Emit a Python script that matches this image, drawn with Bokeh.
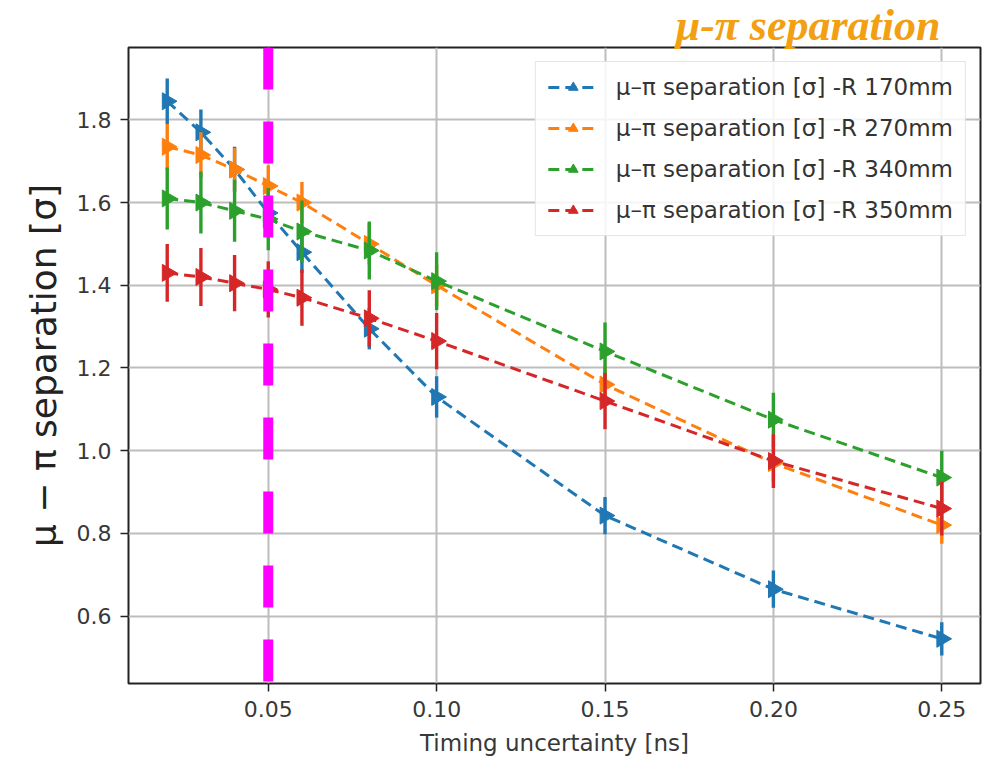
import math
from bokeh.plotting import figure
from bokeh.models import (Range1d, FixedTicker, Span, Legend, LegendItem)
from bokeh.embed import file_html
from bokeh.resources import INLINE

# ---------------- data ----------------
timing = [0.02, 0.03, 0.04, 0.05, 0.06, 0.08, 0.10, 0.15, 0.20, 0.25]

sep_170 = [1.845, 1.770, 1.680, 1.575, 1.480, 1.295, 1.130, 0.843, 0.665, 0.545]
err_170 = [0.055, 0.055, 0.055, 0.050, 0.050, 0.050, 0.050, 0.045, 0.045, 0.040]

sep_270 = [1.735, 1.715, 1.680, 1.640, 1.600, 1.500, 1.400, 1.160, 0.970, 0.820]
err_270 = [0.055, 0.055, 0.052, 0.050, 0.050, 0.050, 0.050, 0.045, 0.045, 0.045]

sep_340 = [1.610, 1.600, 1.580, 1.560, 1.530, 1.484, 1.410, 1.240, 1.075, 0.935]
err_340 = [0.075, 0.075, 0.075, 0.075, 0.075, 0.070, 0.070, 0.070, 0.065, 0.065]

sep_350 = [1.430, 1.420, 1.405, 1.390, 1.370, 1.320, 1.265, 1.120, 0.975, 0.860]
err_350 = [0.070, 0.070, 0.068, 0.068, 0.068, 0.068, 0.068, 0.068, 0.065, 0.065]

series_names = ["μ–π separation [σ] -R 170mm", "μ–π separation [σ] -R 270mm",
                "μ–π separation [σ] -R 340mm", "μ–π separation [σ] -R 350mm"]
series_colors = ["#1f77b4", "#ff7f0e", "#2ca02c", "#d62728"]

x_ticks = [0.05, 0.10, 0.15, 0.20, 0.25]
x_tick_labels = ["0.05", "0.10", "0.15", "0.20", "0.25"]
y_ticks = [0.6, 0.8, 1.0, 1.2, 1.4, 1.6, 1.8]
y_tick_labels = ["0.6", "0.8", "1.0", "1.2", "1.4", "1.6", "1.8"]

cut_value = 0.05
title_text = "μ-π separation"
x_label = "Timing uncertainty [ns]"
y_label = "μ − π separation [σ]"

# ---------------- figure ----------------
p = figure(width=986, height=760, output_backend="svg", toolbar_location=None,
           x_range=Range1d(0.0085, 0.2615), y_range=Range1d(0.437, 1.975))
p.min_border_left = 128
p.min_border_right = 6
p.min_border_top = 46
p.min_border_bottom = 77
p.background_fill_color = "white"
p.border_fill_color = "white"
p.outline_line_color = "#222222"
p.outline_line_width = 2

# orange heading above the frame, right side
p.title.text = title_text
p.title.align = "right"
p.title.offset = 40
p.title.standoff = -4
p.title.vertical_align = "bottom"
p.title.text_font = "Liberation Serif"
p.title.text_font_style = "bold italic"
p.title.text_font_size = "44px"
p.title.text_color = "#f2a012"

for ax in (p.xaxis[0], p.yaxis[0]):
    ax.axis_line_color = None
    ax.major_tick_line_color = "#222222"
    ax.major_tick_line_width = 1.5
    ax.major_tick_out = 8
    ax.major_tick_in = 0
    ax.minor_tick_line_color = None
    ax.major_label_text_font = "DejaVu Sans"
    ax.major_label_text_font_size = "22px"
    ax.major_label_text_color = "#383838"
    ax.axis_label_text_font = "DejaVu Sans"
    ax.axis_label_text_font_style = "normal"
    ax.axis_label_text_color = "#222222"

p.xaxis[0].ticker = FixedTicker(ticks=x_ticks)
p.xaxis[0].major_label_overrides = dict(zip(x_ticks, x_tick_labels))
p.xaxis[0].axis_label = x_label
p.xaxis[0].axis_label_text_font_size = "23px"
p.xaxis[0].axis_label_text_color = "#383838"
p.xaxis[0].major_label_standoff = 9
p.xaxis[0].axis_label_standoff = 10

p.yaxis[0].ticker = FixedTicker(ticks=y_ticks)
p.yaxis[0].major_label_overrides = dict(zip(y_ticks, y_tick_labels))
p.yaxis[0].axis_label = y_label
p.yaxis[0].axis_label_text_font_size = "36px"
p.yaxis[0].major_label_standoff = 9
p.yaxis[0].axis_label_standoff = 10

p.xgrid[0].ticker = FixedTicker(ticks=x_ticks)
p.ygrid[0].ticker = FixedTicker(ticks=y_ticks)
p.grid.grid_line_color = "#bdbdbd"
p.grid.grid_line_width = 2

# ---------------- series ----------------
all_y = [sep_170, sep_270, sep_340, sep_350]
all_e = [err_170, err_270, err_340, err_350]
items = []
for name, col, ys, es in zip(series_names, series_colors, all_y, all_e):
    ln = p.line(timing, ys, line_color=col, line_width=3, line_dash="11 6")
    lo = [y - e for y, e in zip(ys, es)]
    hi = [y + e for y, e in zip(ys, es)]
    p.segment(timing, lo, timing, hi, line_color=col, line_width=3.4)
    mk = p.scatter(timing, ys, marker="triangle", size=17, angle=-math.pi / 2,
                   fill_color=col, line_color=col)
    items.append(LegendItem(label=name, renderers=[ln, mk]))

# magenta cut line
p.add_layout(Span(location=cut_value, dimension="height", line_color="#ff00ff",
                  line_width=10, line_dash="42 32"))

legend = Legend(items=items, location="top_right")
legend.label_text_font = "DejaVu Sans"
legend.label_text_font_size = "23px"
legend.label_text_color = "#333333"
legend.glyph_width = 50
legend.glyph_height = 24
legend.label_height = 24
legend.spacing = 15
legend.label_standoff = 18
legend.padding = 12
legend.margin = 14
legend.border_line_color = "#cccccc"
legend.border_line_width = 1.5
legend.background_fill_color = "white"
legend.background_fill_alpha = 0.85
p.add_layout(legend)

open("out.html", "w").write(file_html(p, INLINE))
